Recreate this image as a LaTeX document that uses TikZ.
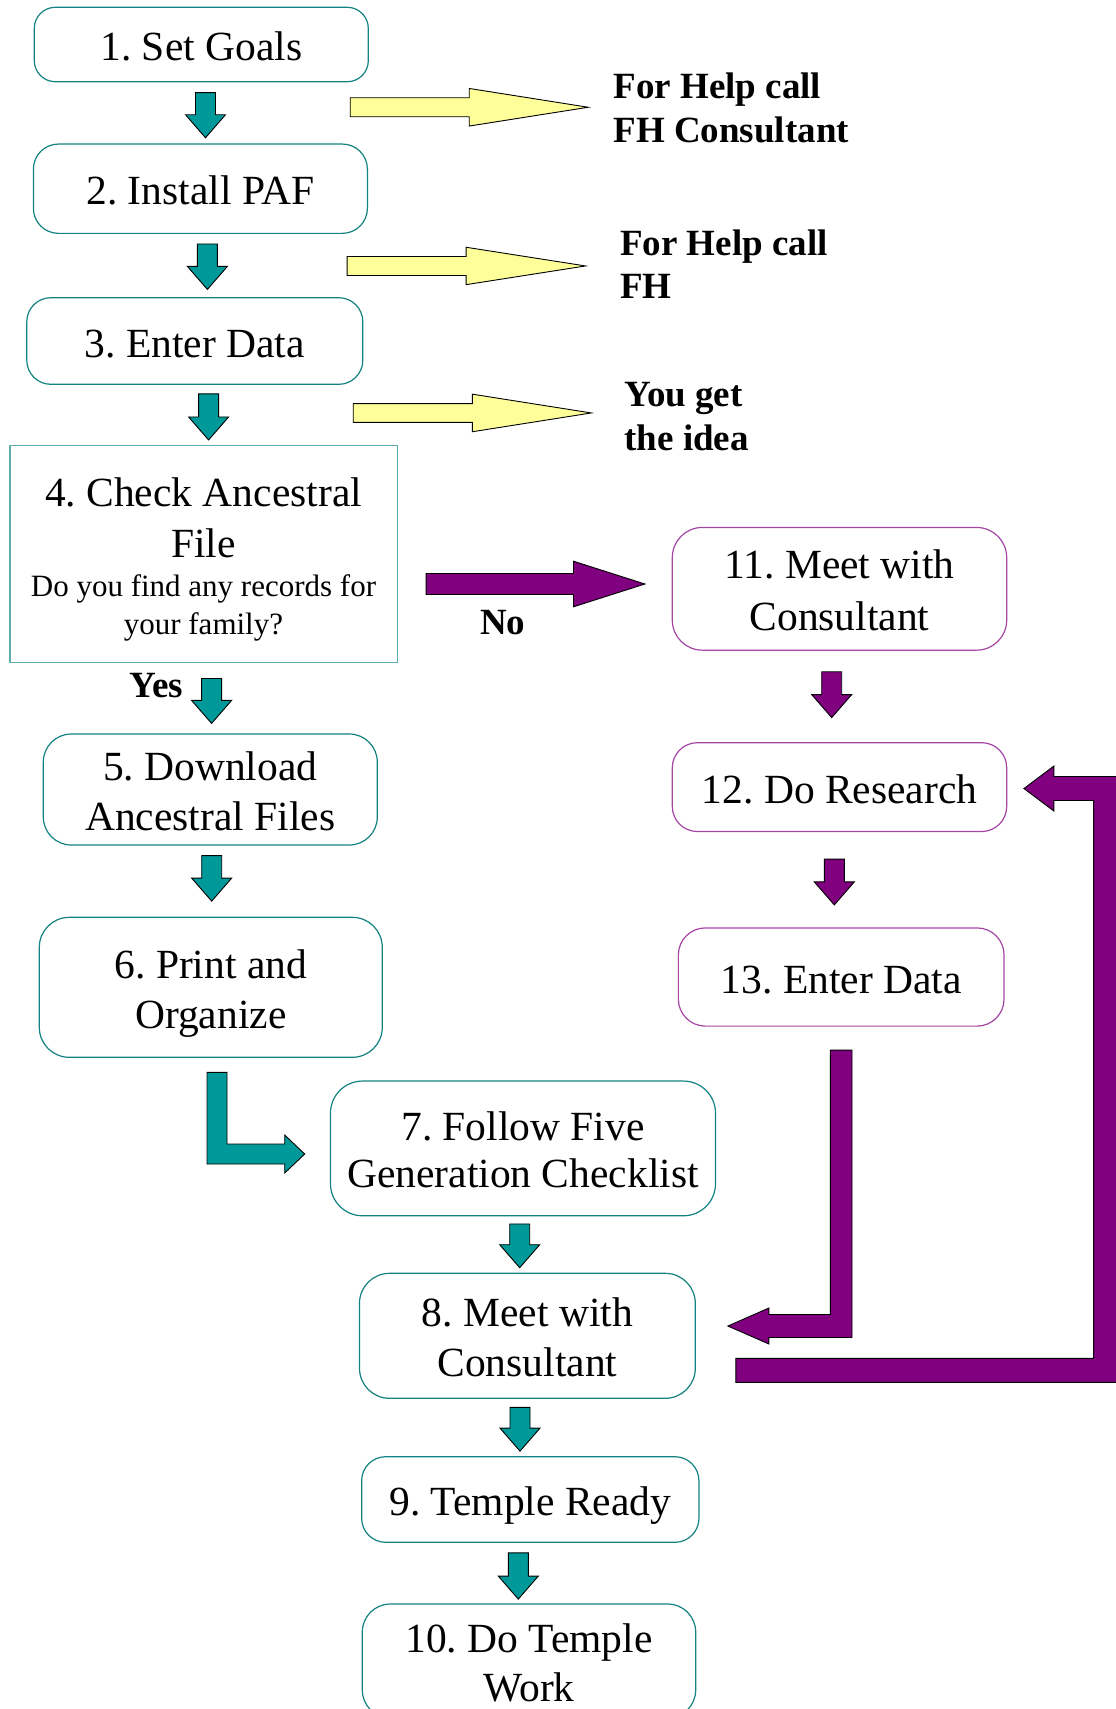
\documentclass[tikz,border=0pt]{standalone}
\usepackage{fontspec}
\setmainfont{Liberation Serif}
\usetikzlibrary{calc}
\frenchspacing
\definecolor{tealfill}{RGB}{0,153,153}
\definecolor{tealline}{RGB}{20,130,130}
\definecolor{teallight}{RGB}{95,175,175}
\definecolor{purp}{RGB}{128,0,128}
\definecolor{purpline}{RGB}{165,70,165}
\definecolor{yel}{RGB}{255,255,153}
\newcommand\Lf[1]{\rule{0pt}{32pt}\smash{#1}}
\newcommand\Lb[1]{\rule{0pt}{26pt}\smash{#1}}
% vertical block arrow: style, from node, to node, x offset, top gap, bottom gap
\newcommand\vblk[6]{%
  \path[#1] let \p1=([xshift=#4]#2.south), \p2=(#3.north) in
    (\x1-10pt,\y1-#5) -- (\x1+10pt,\y1-#5) -- (\x1+10pt,\y2+#6+23pt) -- (\x1+20pt,\y2+#6+23pt)
    -- (\x1,\y2+#6) -- (\x1-20pt,\y2+#6+23pt) -- (\x1-10pt,\y2+#6+23pt) -- cycle;}
% horizontal block arrow: style, from, tip, half shaft, half head, head length
\newcommand\hblk[6]{%
  \path[#1] let \p1=(#2), \p2=(#3) in
    (\x1,\y2+#4) -- (\x2-#6,\y2+#4) -- (\x2-#6,\y2+#5) -- (\x2,\y2)
    -- (\x2-#6,\y2-#5) -- (\x2-#6,\y2-#4) -- (\x1,\y2-#4) -- cycle;}
\begin{document}
\begin{tikzpicture}[x=1pt,y=-1pt,
  box/.style={draw=tealline, line width=1.2pt, rounded corners=#1, fill=white,
    inner sep=0pt, align=center, font=\fontsize{41.5}{50}\selectfont},
  box/.default=26pt,
  pbox/.style={box=#1, draw=purpline},
  pbox/.default=28pt,
  tarr/.style={draw=black, line width=0.9pt, fill=tealfill},
  parr/.style={draw=black, line width=0.9pt, fill=purp},
  yarr/.style={draw=black, line width=0.9pt, fill=yel},
  lbl/.style={font=\fontsize{37}{43.5}\selectfont\bfseries, inner sep=0pt, align=left, anchor=north west},
  lblb/.style={font=\fontsize{37}{43.5}\selectfont\bfseries, inner sep=0pt, anchor=base}
]
\useasboundingbox[fill=white] (0,0) rectangle (1116,1709);

% left column
\node[box=21pt, minimum width=334pt, minimum height=74.4pt] (b1) at (201.3,44.5) {\Lf{1. Set Goals}};
\node[box=25pt, minimum width=334pt, minimum height=89.3pt] (b2) at (200.4,188.7) {\Lf{2. Install PAF}};
\node[box=24pt, minimum width=336pt, minimum height=86.6pt] (b3) at (194.8,341) {\Lf{3. Enter Data}};
\node[box=0pt, draw=teallight, line width=1.5pt, minimum width=387.5pt, minimum height=217pt,
  font=\fontsize{41.5}{51}\selectfont] (b4) at (203.5,554.2)
  {\Lf{4. Check Ancestral}\\\Lf{File}\\[-12pt]{\fontsize{31}{36}\selectfont\Lf{Do you find any records for}}\\[-13pt]{\fontsize{31}{36}\selectfont\Lf{your family?}}};
\node[box=28pt, minimum width=334pt, minimum height=111pt] (b5) at (210.3,789.5) {\Lf{5. Download}\\\Lf{Ancestral Files}};
\node[box=30pt, minimum width=343pt, minimum height=140pt] (b6) at (210.8,987.3) {\Lf{6. Print and}\\\Lf{Organize}};

% middle column
\node[box=32pt, minimum width=385pt, minimum height=134.7pt, font=\fontsize{41.5}{47}\selectfont] (b7) at (523,1148.4) {\Lf{7. Follow Five}\\\Lf{Generation Checklist}};
\node[box=30pt, minimum width=335.8pt, minimum height=125pt] (b8) at (527.4,1335.8) {\Lf{8. Meet with}\\\Lf{Consultant}};
\node[box=24pt, minimum width=337.3pt, minimum height=85.6pt] (b9) at (530.3,1499.5) {\Lf{9. Temple Ready}};
\node[box=28pt, minimum width=333.4pt, minimum height=114pt, font=\fontsize{41.5}{48.5}\selectfont] (b10) at (529,1661) {\Lf{10. Do Temple}\\\Lf{Work}};

% right column
\node[pbox=30pt, minimum width=334.4pt, minimum height=122.7pt, font=\fontsize{41.5}{52}\selectfont] (b11) at (839.5,588.8) {\Lf{11. Meet with}\\\Lf{Consultant}};
\node[pbox=25pt, minimum width=334.4pt, minimum height=88.8pt] (b12) at (839.5,787.1) {\Lf{12. Do Research}};
\node[pbox=27pt, minimum width=325.7pt, minimum height=98.2pt] (b13) at (841.2,977) {\Lf{13. Enter Data}};

% labels
\node[lbl] (l1) at (613.3,72.3) {\Lb{For Help call}\\\Lb{FH Consultant}};
\node[lbl] (l2) at (620,229) {\Lb{For Help call}\\\Lb{FH}};
\node[lbl] (l3) at (624.3,380.7) {\Lb{You get}\\\Lb{the idea}};
\node[lblb] (lno) at (502.7,634) {No};
\node[lblb] (lyes) at (156.3,697.7) {Yes};

% yellow arrows
\coordinate (y1s) at (350.2,107.7);
\coordinate (y2s) at (347.1,265.7);
\coordinate (y3s) at (353.2,412.7);
\hblk{yarr}{y1s}{[xshift=-25.1pt]l1.west}{9.5pt}{18.8pt}{119pt}
\hblk{yarr}{y2s}{[xshift=-34.5pt,yshift=-2pt]l2.west}{9.5pt}{18.7pt}{119.4pt}
\hblk{yarr}{y3s}{[xshift=-33pt,yshift=2.7pt]l3.west}{9.4pt}{18.8pt}{119pt}

% teal down arrows
\vblk{tarr}{b1}{b2}{4.2pt}{10.3pt}{5.7pt}
\vblk{tarr}{b2}{b3}{7pt}{10pt}{7.7pt}
\vblk{tarr}{b3}{b4}{13.8pt}{9pt}{5pt}
\vblk{tarr}{b4}{b5}{8.1pt}{15pt}{10pt}
\vblk{tarr}{b5}{b6}{1.4pt}{10pt}{15.6pt}
\vblk{tarr}{b7}{b8}{-3.3pt}{7.6pt}{5pt}
\vblk{tarr}{b8}{b9}{-7.4pt}{8.4pt}{5pt}
\vblk{tarr}{b9}{b10}{-12pt}{10pt}{4.3pt}

% purple down arrows
\vblk{parr}{b11}{b12}{-7.8pt}{21pt}{24.5pt}
\vblk{parr}{b12}{b13}{-5.2pt}{27pt}{22.4pt}

% No arrow
\hblk{parr}{[xshift=28.1pt]b4.east}{[xshift=-26.8pt,yshift=4.8pt]b11.west}{10.5pt}{22.8pt}{71.4pt}

% L arrow 6 -> 7
\path[tarr] let \p1=([xshift=6.2pt,yshift=-14.4pt]b6.south), \p2=([xshift=-25.2pt,yshift=-5.6pt]b7.west) in
  (\x1-10pt,\y1) -- (\x1+10pt,\y1) -- (\x1+10pt,\y2+10pt) -- (\x2-20pt,\y2+10pt) -- (\x2-20pt,\y2+19pt)
  -- (\x2,\y2) -- (\x2-20pt,\y2-19pt) -- (\x2-20pt,\y2-10pt) -- (\x1-10pt,\y2-10pt) -- cycle;

% 13 -> 8
\path[parr] let \p1=([yshift=-23.4pt]b13.south), \p2=([xshift=32pt,yshift=9.8pt]b8.east) in
  (\x1-10.8pt,\y1) -- (\x1+10.8pt,\y1) -- (\x1+10.8pt,\y2-11.5pt) -- (\x2+41pt,\y2-11.5pt) -- (\x2+41pt,\y2-18pt)
  -- (\x2,\y2) -- (\x2+41pt,\y2+18pt) -- (\x2+41pt,\y2+11.5pt) -- (\x1-10.8pt,\y2+11.5pt) -- cycle;

% 8 -> 12 feedback loop
\path[parr] let \p1=([xshift=40pt]b8.east), \p2=([xshift=16.6pt,yshift=-1.4pt]b12.east) in
  (\x1,\y1-22.5pt) -- (\x2+69.7pt,\y1-22.5pt) -- (\x2+69.7pt,\y2-12pt) -- (\x2+30pt,\y2-12pt)
  -- (\x2+30pt,\y2-22.5pt) -- (\x2,\y2) -- (\x2+30pt,\y2+22.5pt) -- (\x2+30pt,\y2+12pt)
  -- (\x2+105pt,\y2+12pt) -- (\x2+105pt,\y1-46.5pt) -- (\x1,\y1-46.5pt) -- cycle;
\end{tikzpicture}
\end{document}
